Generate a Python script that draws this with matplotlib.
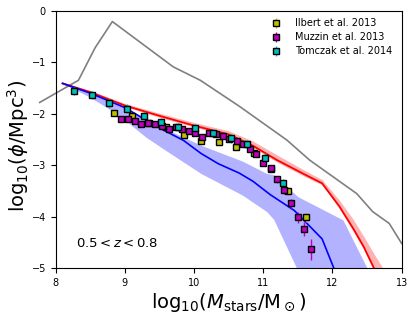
import matplotlib
matplotlib.use("Agg")
import matplotlib.pyplot as plt

# observations
ilbert_x = [8.85, 9.10, 9.35, 9.60, 9.85, 10.10, 10.36, 10.61, 10.86, 11.11, 11.36, 11.61]
ilbert_y = [-1.98, -2.04, -2.18, -2.26, -2.42, -2.52, -2.54, -2.64, -2.77, -3.07, -3.50, -4.01]
ilbert_err = [0.05, 0.05, 0.05, 0.05, 0.05, 0.05, 0.05, 0.05, 0.05, 0.06, 0.07, 0.09]

muzzin_x = [8.95, 9.05, 9.15, 9.24, 9.34, 9.44, 9.54, 9.64, 9.74, 9.83, 9.93, 10.02, 10.12,
            10.22, 10.32, 10.42, 10.51, 10.62, 10.71, 10.81, 10.90, 11.00, 11.11, 11.20,
            11.30, 11.40, 11.50, 11.59, 11.69]
muzzin_y = [-2.11, -2.11, -2.14, -2.19, -2.17, -2.19, -2.23, -2.30, -2.25, -2.30, -2.33, -2.37,
            -2.45, -2.38, -2.40, -2.44, -2.49, -2.53, -2.58, -2.68, -2.78, -2.95, -3.05, -3.27,
            -3.48, -3.74, -4.01, -4.24, -4.63]
muzzin_err = [0.05] * 22 + [0.06, 0.07, 0.08, 0.09, 0.11, 0.14, 0.2]

tomczak_x = [8.27, 8.52, 8.77, 9.03, 9.28, 9.52, 9.77, 10.02, 10.28, 10.53, 10.77, 11.02, 11.28]
tomczak_y = [-1.56, -1.64, -1.80, -1.90, -2.04, -2.16, -2.25, -2.28, -2.38, -2.48, -2.58, -2.85, -3.34]
tomczak_err = [0.08] * 13

# models
gray_x = [7.77, 8.33, 8.57, 8.82, 9.70, 10.09, 10.66, 11.34, 11.67, 12.35, 12.58, 12.82, 13.0]
gray_y = [-1.78, -1.35, -0.72, -0.21, -1.09, -1.35, -1.86, -2.51, -2.90, -3.55, -3.90, -4.13, -4.52]

red_x = [8.1, 8.5, 9.0, 9.5, 10.0, 10.5, 10.85, 11.2, 11.6, 11.85, 12.1, 12.3, 12.45, 12.6, 12.75]
red_y = [-1.41, -1.58, -1.84, -2.04, -2.23, -2.40, -2.62, -2.90, -3.18, -3.35, -3.80, -4.23, -4.58, -5.0, -5.4]
red_lo = [-1.43, -1.60, -1.86, -2.07, -2.26, -2.43, -2.66, -2.94, -3.22, -3.38, -3.84, -4.28, -4.63, -5.05, -5.45]
red_hi = [-1.39, -1.55, -1.80, -1.99, -2.17, -2.33, -2.53, -2.80, -3.10, -3.28, -3.68, -4.05, -4.38, -4.72, -5.05]

blue_x = [8.1, 8.5, 9.0, 9.45, 9.85, 10.1, 10.35, 10.65, 10.85, 11.1, 11.45, 11.85, 12.02, 12.1]
blue_y = [-1.41, -1.60, -1.88, -2.24, -2.52, -2.77, -2.97, -3.15, -3.31, -3.57, -3.88, -4.43, -5.0, -5.3]
band_x = [8.1, 8.5, 8.8, 9.0, 9.3, 9.6, 10.1, 10.7, 11.05, 11.15, 11.5, 12.15, 12.5]
band_hi = [-1.41, -1.60, -1.76, -1.88, -2.08, -2.30, -2.61, -2.92, -3.16, -3.18, -3.61, -4.06, -5.0]
band_lo = [-1.41, -1.68, -1.93, -2.12, -2.45, -2.72, -3.16, -3.58, -3.90, -4.05, -5.05, -5.5, -5.5]

fig = plt.figure(figsize=(4.15, 3.16), dpi=100)
ax = fig.add_axes([0.134, 0.151, 0.834, 0.815])

ax.plot(gray_x, gray_y, color="gray", lw=1.2, zorder=1, clip_on=False)
ax.fill_between(band_x, band_lo, band_hi, color="b", alpha=0.3, lw=0, zorder=1)
ax.fill_between(red_x, red_lo, red_hi, color="r", alpha=0.3, lw=0, zorder=1)
ax.plot(red_x, red_y, color="r", lw=1.3, zorder=2)
ax.plot(blue_x, blue_y, color="b", lw=1.2, zorder=2)

kw = dict(fmt="s", ms=5, mec="k", mew=1, elinewidth=1, capsize=0, zorder=3)
ax.errorbar(ilbert_x, ilbert_y, yerr=ilbert_err, color="y", label="Ilbert et al. 2013", **kw)
ax.errorbar(muzzin_x, muzzin_y, yerr=muzzin_err, color="m", label="Muzzin et al. 2013", **kw)
ax.errorbar(tomczak_x, tomczak_y, yerr=tomczak_err, color="c", label="Tomczak et al. 2014", **kw)

ax.text(8.3, -4.52, r"$0.5 < z < 0.8$", fontsize=9.5, va="center")

ax.set_xlim(8, 13)
ax.set_ylim(-5, 0)
ax.set_xticks([8, 9, 10, 11, 12, 13])
ax.set_yticks([0, -1, -2, -3, -4, -5])
ax.tick_params(labelsize=7, length=3.5)
ax.set_xlabel(r"log$_{10}$($M_{\rm stars}$/M$_\odot$)", fontsize=14, labelpad=2)
ax.set_ylabel(r"log$_{10}$($\phi$/Mpc$^3$)", fontsize=14)
ax.yaxis.set_label_coords(-0.072, 0.475)

ax.legend(loc="upper right", bbox_to_anchor=(0.983, 0.985), frameon=False, fontsize=7,
          handlelength=1.0, handletextpad=1.4, borderaxespad=0, labelspacing=0.4)

fig.savefig("out.png", dpi=100)
